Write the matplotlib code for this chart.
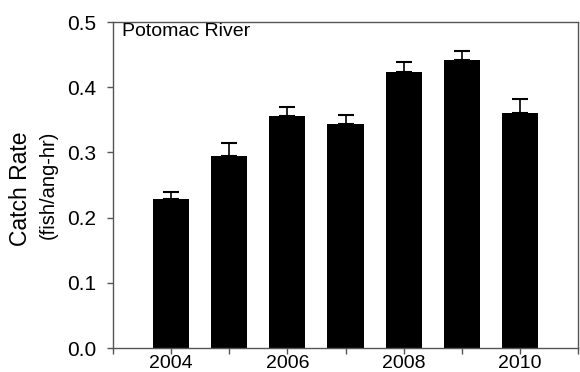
import numpy as np
import matplotlib
matplotlib.use("Agg")
import matplotlib.pyplot as plt

plt.rcParams['font.family'] = ['Liberation Sans', 'DejaVu Sans']

# Catch rate by year, Potomac River
years = [2004, 2005, 2006, 2007, 2008, 2009, 2010]
catch_rate = [0.228, 0.294, 0.356, 0.344, 0.424, 0.442, 0.361]
std_err = [0.012, 0.020, 0.014, 0.014, 0.015, 0.014, 0.021]

fig = plt.figure(figsize=(5.8, 3.72), dpi=100)
ax = fig.add_axes([113 / 580, 1 - 348 / 372, 465 / 580, 326 / 372])

ax.bar(years, catch_rate, width=0.62, color='black', zorder=2)
ax.errorbar(years, catch_rate, yerr=[np.zeros(len(std_err)), std_err],
            fmt='none', ecolor='black', elinewidth=1.2, capsize=5.5,
            capthick=1.5, zorder=1)

ax.set_xlim(2003, 2011)
ax.set_ylim(0, 0.5)
ax.set_xticks(range(2003, 2012))
ax.set_xticklabels(['' if y % 2 else str(y) for y in range(2003, 2012)])
ax.set_yticks([0.0, 0.1, 0.2, 0.3, 0.4, 0.5])
ax.set_yticklabels(['0.0', '0.1', '0.2', '0.3', '0.4', '0.5'])

for s in ax.spines.values():
    s.set_color('#555555')
    s.set_linewidth(1.0)
ax.tick_params(direction='out', length=4, width=1.0, color='#555555',
               labelsize=15)
ax.tick_params(axis='y', pad=8)
ax.tick_params(axis='x', pad=1, labelsize=14)

ax.text(122 / 580, 1 - 23 / 372, 'Potomac River', transform=fig.transFigure,
        fontsize=14, va='top', ha='left')

fig.text(21 / 580, 1 - 189 / 372, 'Catch Rate', rotation=90,
         fontsize=16.5, ha='center', va='center')
fig.text(48 / 580, 1 - 185 / 372, '(fish/ang-hr)', rotation=90,
         fontsize=14.5, ha='center', va='center')

fig.savefig('out.png', dpi=100)
